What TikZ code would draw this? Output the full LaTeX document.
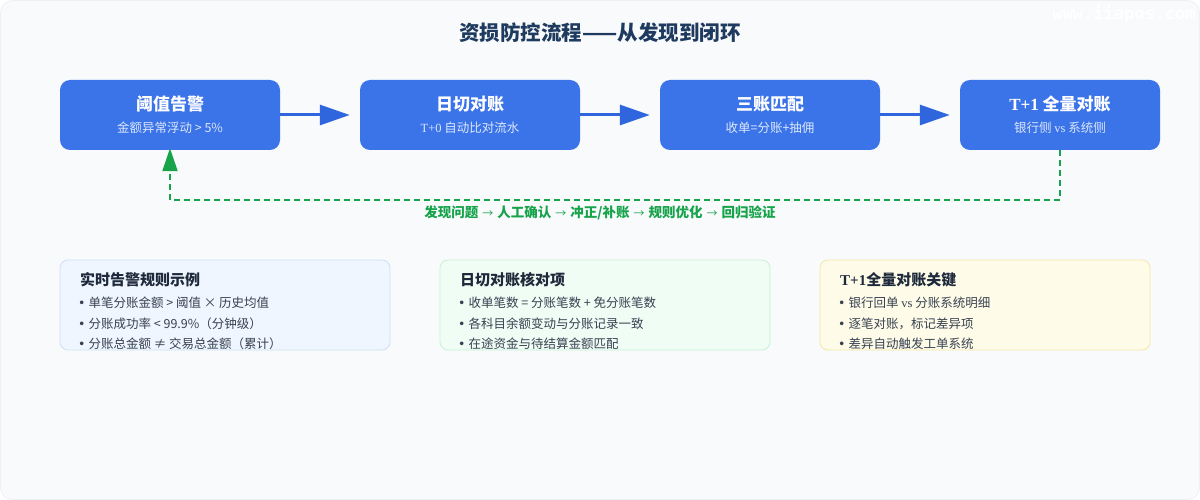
\documentclass[tikz,border=0pt]{standalone}
\usepackage{fontspec}
\setmainfont{Noto Sans CJK SC}
\newfontfamily\lat{Liberation Serif}
\newfontfamily\dej{DejaVu Sans}
\newfontfamily\wmfont{DejaVu Sans Mono}
\usetikzlibrary{arrows.meta,positioning}
\definecolor{bgc}{HTML}{F8FAFC}
\definecolor{bgline}{HTML}{EDF1F6}
\definecolor{boxc}{HTML}{3B73E8}
\definecolor{subc}{HTML}{DCE8FD}
\definecolor{arrc}{HTML}{2F66DD}
\definecolor{titc}{HTML}{1E3A5F}
\definecolor{grn}{HTML}{16A34A}
\definecolor{ptit}{HTML}{1E293B}
\definecolor{pitem}{HTML}{374151}
\definecolor{pAf}{HTML}{EFF6FF}\definecolor{pAd}{HTML}{CFE0F5}
\definecolor{pBf}{HTML}{F0FDF4}\definecolor{pBd}{HTML}{C9EFD6}
\definecolor{pCf}{HTML}{FEFCE8}\definecolor{pCd}{HTML}{F4E6A6}
\newcommand{\bul}{{\dej •}\hspace{3pt}}
\newcommand{\garr}{\hspace{4pt}{\mdseries\fontsize{11}{13}\selectfont →}\hspace{4pt}}
\tikzset{
  stepbox/.style={draw=none,fill=boxc,rounded corners=10pt,minimum height=70pt,inner sep=0pt},
  boxtitle/.style={text=white,font=\fontsize{17}{19}\selectfont\bfseries,inner sep=0pt},
  boxsub/.style={text=subc,font=\fontsize{12.5}{14}\selectfont,inner sep=0pt},
  flowarrow/.style={draw=arrc,line width=3pt,-{Triangle[length=30pt,width=20pt]},shorten >=10pt},
  looparrow/.style={draw=grn,line width=2pt,dash pattern=on 6pt off 4pt,-{Triangle[length=23pt,width=15pt]}},
  panel/.style={rounded corners=8pt,line width=0.8pt,minimum width=330pt,minimum height=90pt,inner sep=0pt},
  ptitle/.style={anchor=west,text=ptit,font=\fontsize{15}{17}\selectfont\bfseries,inner sep=0pt},
  pitemst/.style={anchor=west,text=pitem,font=\fontsize{12.5}{14}\selectfont,inner sep=0pt}
}
\begin{document}
\begin{tikzpicture}[x=1pt,y=-1pt]
\useasboundingbox (0,0) rectangle (1200,500);
\fill[white] (0,0) rectangle (1200,500);
\draw[fill=bgc,draw=bgline,rounded corners=12pt,line width=0.8pt] (0.5,0.5) rectangle (1199.5,499.5);
\node[text=white,font=\wmfont\bfseries\fontsize{17}{18}\selectfont,anchor=east,inner sep=0pt] (wm) at (1196,14) {www.iiapos.com};
\node[text=titc,font=\fontsize{20.5}{23}\selectfont\bfseries,inner sep=0pt] (title) at (600,33) {资损防控流程——从发现到闭环};
% step boxes
\node[stepbox,minimum width=220pt] (b1) at (170,115) {};
\node[stepbox,minimum width=220pt] (b2) at (470,115) {};
\node[stepbox,minimum width=220pt] (b3) at (770,115) {};
\node[stepbox,minimum width=200pt] (b4) at (1060,115) {};
\node[boxtitle] (t1) at (170,104) {阈值告警};
\node[boxsub] (s1) at (170,128) {金额异常浮动 > 5\%};
\node[boxtitle] (t2) at (470,104) {日切对账};
\node[boxsub] (s2) at (470,128) {{\lat T+0} 自动比对流水};
\node[boxtitle] (t3) at (770,104) {三账匹配};
\node[boxsub] (s3) at (770,128) {收单=分账+抽佣};
\node[boxtitle] (t4) at (1060,104) {{\lat T+1} 全量对账};
\node[boxsub] (s4) at (1060,128) {银行侧 {\lat vs} 系统侧};
\draw[flowarrow] (b1.east) -- (b2.west);
\draw[flowarrow] (b2.east) -- (b3.west);
\draw[flowarrow] (b3.east) -- (b4.west);
% loop
\coordinate (c1) at (1060,200);
\coordinate (c2) at (170,200);
\draw[looparrow] (b4.south) -- (c1) -- (c2) -- ([yshift=2pt]b1.south);
\node[text=grn,font=\fontsize{13.5}{15}\selectfont\bfseries,inner sep=0pt] (loopl) at (600,213) {发现问题\garr 人工确认\garr 冲正/补账\garr 规则优化\garr 回归验证};
% panels
\node[panel,fill=pAf,draw=pAd] (p1) at (225,305) {};
\node[panel,fill=pBf,draw=pBd] (p2) at (605,305) {};
\node[panel,fill=pCf,draw=pCd] (p3) at (985,305) {};
\node[ptitle] (p1t) at (80,280) {实时告警规则示例};
\node[pitemst] (p1a) at (78,303) {\bul 单笔分账金额 > 阈值 × 历史均值};
\node[pitemst] (p1b) at (78,324) {\bul 分账成功率 < 99.9\%（分钟级）};
\node[pitemst] (p1c) at (78,344) {\bul 分账总金额 ≠ 交易总金额（累计）};
\node[ptitle] (p2t) at (460,280) {日切对账核对项};
\node[pitemst] (p2a) at (458,303) {\bul 收单笔数 = 分账笔数 + 免分账笔数};
\node[pitemst] (p2b) at (458,324) {\bul 各科目余额变动与分账记录一致};
\node[pitemst] (p2c) at (458,344) {\bul 在途资金与待结算金额匹配};
\node[ptitle] (p3t) at (840,280) {{\lat T+1}全量对账关键};
\node[pitemst] (p3a) at (838,303) {\bul 银行回单 {\lat vs} 分账系统明细};
\node[pitemst] (p3b) at (838,324) {\bul 逐笔对账，标记差异项};
\node[pitemst] (p3c) at (838,344) {\bul 差异自动触发工单系统};
\end{tikzpicture}
\end{document}
